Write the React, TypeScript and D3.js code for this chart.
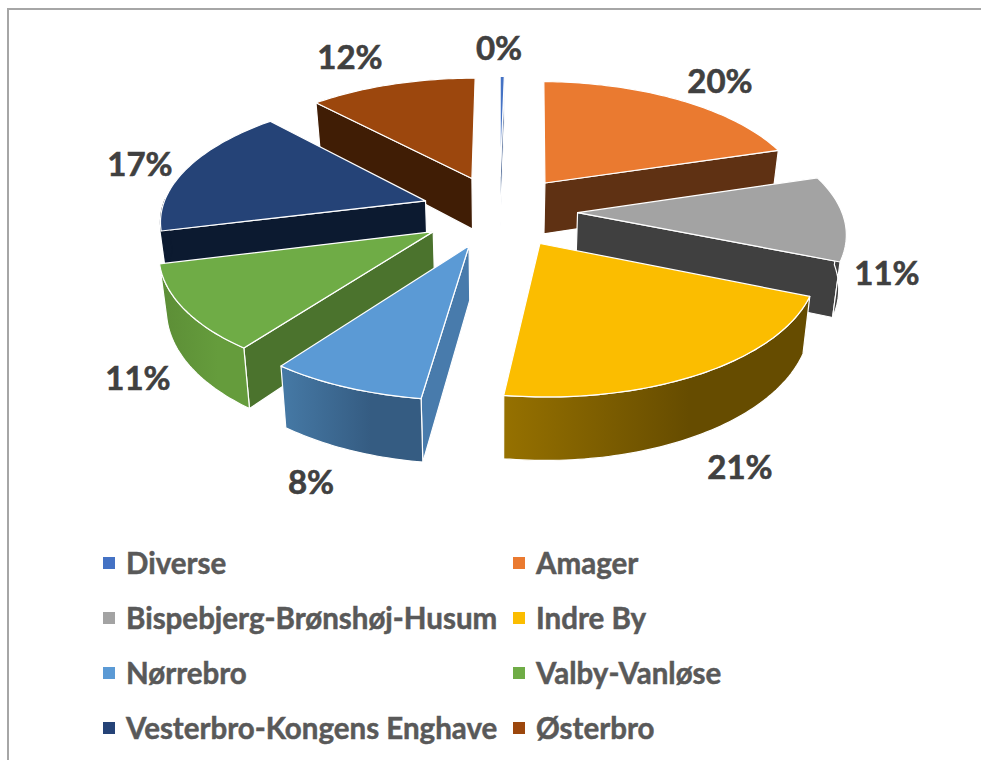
import React from "react";
import * as d3 from "d3";

const WIDTH = 981;
const HEIGHT = 760;

const categories = [
  "Diverse",
  "Amager",
  "Bispebjerg-Brønshøj-Husum",
  "Indre By",
  "Nørrebro",
  "Valby-Vanløse",
  "Vesterbro-Kongens Enghave",
  "Østerbro",
];
const shares = [0.3, 20, 11, 21, 8, 11, 17, 12];

const topColors = ["#4472c4", "#ea7a30", "#a3a3a3", "#fbbd00", "#5b9ad5", "#6fac46", "#254377", "#9c470d"];
const wallColors = ["#2a4a80", "#5f3113", "#404040", "#664c00", "#487bac", "#4b732d", "#0c1a30", "#401d05"];
const rimLeftColors = ["#2a4a80", "#5f3113", "#404040", "#967100", "#4578a4", "#5d8f37", "#0c1a30", "#401d05"];
const rimRightColors = ["#2a4a80", "#5f3113", "#404040", "#664c00", "#355c82", "#659c3c", "#0c1a30", "#401d05"];
const rimEdgeColors = ["#fff", "#fff", "#fff", "#fff", "#fff", "#fff", "#0c1a30", "#fff"];

// Label anchors, in the order of the categories (layout only).
const labelX = [499, 720, 887, 740, 311, 138, 140, 350];
const labelY = [47, 80, 272, 466, 481, 377, 163, 56];

// Pie projection constants.
const CX = 499.5;
const CY = 211;
const RADIUS = 264;
const EXPLODE = 78;
const TILT = 0.464;
const PERSPECTIVE = 0.000521;
const THICKNESS = 52.5;
const FLOOR_SHRINK = 0.978;

type Pt = [number, number];

const project = (u: number, v: number, floor: boolean): Pt => {
  const s = 1 / (1 + PERSPECTIVE * v);
  const y = CY - TILT * v * s;
  return floor ? [CX + u * s * FLOOR_SHRINK, y + THICKNESS * s] : [CX + u * s, y];
};

const pie = d3.pie<number>().sort(null).value((d) => d);
const arcs = pie(shares);
const line = d3.line();
const closed = (pts: Pt[]) => (line(pts) as string) + "Z";

const slices = arcs.map((a, i) => {
  const mid = (a.startAngle + a.endAngle) / 2;
  const ox = EXPLODE * Math.sin(mid);
  const oy = EXPLODE * Math.cos(mid);
  const rimAt = (t: number, floor: boolean): Pt =>
    project(ox + RADIUS * Math.sin(t), oy + RADIUS * Math.cos(t), floor);
  const n = Math.max(2, Math.ceil((a.endAngle - a.startAngle) / 0.02));
  const angles = d3.range(n + 1).map((k) => a.startAngle + ((a.endAngle - a.startAngle) * k) / n);
  const apexTop = project(ox, oy, false);
  const apexBot = project(ox, oy, true);
  // Only the part of the curved wall that faces the viewer.
  const front = angles.filter((t) => Math.cos(t) < 0.02);
  const wall = (t: number) => closed([apexTop, rimAt(t, false), rimAt(t, true), apexBot]);
  const rimBot = front.map((t) => rimAt(t, true));
  return {
    i,
    depthKey: oy,
    top: closed([apexTop, ...angles.map((t) => rimAt(t, false))]),
    wallStart: Math.sin(a.startAngle) < 0 ? wall(a.startAngle) : null,
    wallEnd: Math.sin(a.endAngle) > 0 ? wall(a.endAngle) : null,
    rim: front.length > 1 ? closed([...front.map((t) => rimAt(t, false)), ...[...rimBot].reverse()]) : null,
    xMin: (d3.min(rimBot, (p) => p[0]) ?? 0) as number,
    xMax: (d3.max(rimBot, (p) => p[0]) ?? 1) as number,
  };
});

const paintOrder = [...slices].sort((a, b) => d3.descending(a.depthKey, b.depthKey));

const legendCols = [103, 513];
const legendRows = [562, 617, 672, 727];

export default function App() {
  const edge = { stroke: "#fff", strokeWidth: 1.2, strokeLinejoin: "round" as const };
  return (
    <svg
      width={WIDTH}
      height={HEIGHT}
      viewBox={`0 0 ${WIDTH} ${HEIGHT}`}
      style={{ position: "absolute", left: 0, top: 0, background: "#fff" }}
    >
      <defs>
        {slices.map((s) => (
          <linearGradient
            key={s.i}
            id={`rim-${s.i}`}
            gradientUnits="userSpaceOnUse"
            x1={s.xMin}
            x2={s.xMin + (s.xMax - s.xMin) * 0.62}
            y1={0}
            y2={0}
          >
            <stop offset="0" stopColor={rimLeftColors[s.i]} />
            <stop offset="1" stopColor={rimRightColors[s.i]} />
          </linearGradient>
        ))}
      </defs>
      <path d={`M8,${HEIGHT} V9 H${WIDTH}`} fill="none" stroke="#a6a6a6" strokeWidth={2} />
      {paintOrder.map((s) => (
        <g key={s.i}>
          {s.wallStart && <path d={s.wallStart} fill={wallColors[s.i]} {...edge} />}
          {s.wallEnd && <path d={s.wallEnd} fill={wallColors[s.i]} {...edge} />}
          {s.rim && <path d={s.rim} fill={`url(#rim-${s.i})`} {...edge} stroke={rimEdgeColors[s.i]} />}
          <path d={s.top} fill={topColors[s.i]} {...edge} />
        </g>
      ))}
      {categories.map((c, i) => (
        <text
          key={c}
          x={labelX[i]}
          y={labelY[i]}
          textAnchor="middle"
          dominantBaseline="central"
          fontFamily="Lato"
          fontWeight={700}
          fontSize={33}
          fill="#404040"
          stroke="#404040"
          strokeWidth={0.6}
        >
          {`${Math.round(shares[i])}%`}
        </text>
      ))}
      {categories.map((c, i) => {
        const x = legendCols[i % 2];
        const y = legendRows[Math.floor(i / 2)];
        return (
          <g key={c}>
            <rect x={x} y={y - 5} width={12} height={12} fill={topColors[i]} />
            <text
              x={x + 23}
              y={y}
              dominantBaseline="central"
              fontFamily="Lato"
              fontWeight={700}
              fontSize={29.5}
              fill="#595959"
              stroke="#595959"
              strokeWidth={0.5}
            >
              {c}
            </text>
          </g>
        );
      })}
    </svg>
  );
}
